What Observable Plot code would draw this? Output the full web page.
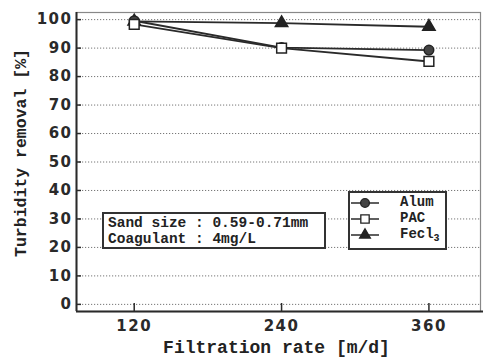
<!DOCTYPE html>
<html>
<head>
<meta charset="utf-8">
<script src="https://cdn.jsdelivr.net/npm/d3@7"></script>
<script src="https://cdn.jsdelivr.net/npm/@observablehq/plot@0.6"></script>
<style>
  html, body { margin: 0; padding: 0; background: #fff; }
  #wrap { position: relative; width: 483px; height: 358px; overflow: hidden; }
  #wrap svg { position: absolute; left: 0; top: 0; }
  .tick-lab text { letter-spacing: 1.5px; }
  .box { position: absolute; border: 2px solid #333; background: #fff; box-sizing: border-box;
         font-family: "Liberation Mono", "DejaVu Sans Mono", monospace; font-weight: bold; color: #222; }
  #note { left: 102px; top: 212px; width: 224px; height: 37px; font-size: 14.5px; line-height: 16px; padding: 1px 0 0 4px; white-space: nowrap; }
  #legend { left: 348px; top: 191px; width: 99px; height: 59px; font-size: 14px; }
  .lrow { position: absolute; left: 0; height: 16px; width: 100%; }
  .lrow svg { position: absolute; left: 3px; top: 0; }
  .lrow span { position: absolute; left: 50px; top: -1px; line-height: 16px; }
  sub { font-size: 10px; vertical-align: -3px; line-height: 0; }
</style>
</head>
<body>
<div id="wrap"></div>
<script>
const rates = [120, 240, 360];
const alum = [99.6, 90.2, 89.3];
const pac = [98.3, 90.0, 85.3];
const fecl3 = [99.4, 98.8, 97.5];
const xTicks = [120, 240, 360];
const yTicks = [0, 10, 20, 30, 40, 50, 60, 70, 80, 90, 100];
const xTitle = "Filtration rate [m/d]";
const yTitle = "Turbidity removal [%]";
const seriesNames = ["Alum", "PAC", "Fecl3"];
const noteLines = ["Sand size : 0.59-0.71mm", "Coagulant : 4mg/L"];

const toRows = (vals) => rates.map((r, i) => ({rate: r, v: vals[i]}));
const A = toRows(alum), P = toRows(pac), F = toRows(fecl3);

const W = 483, H = 358, mL = 76, mR = 3, mT = 12, mB = 47;
const innerW = W - mL - mR, innerH = H - mT - mB;
const xDom = [73, 402], yDom = [-2.5, 102.5];
const mono = "Liberation Mono, DejaVu Sans Mono, monospace";
const sans = "DejaVu Sans, Liberation Sans, sans-serif";
const ink = "#2a2a2a";

const chart = Plot.plot({
  width: W, height: H,
  marginLeft: mL, marginRight: mR, marginTop: mT, marginBottom: mB,
  x: {domain: xDom},
  y: {domain: yDom},
  style: {background: "transparent"},
  marks: [
    Plot.ruleY(yTicks, {stroke: "#777", strokeWidth: 1, strokeDasharray: "1.2,1.8"}),
    Plot.frame({stroke: "#888", strokeWidth: 1.2}),
    Plot.ruleX([xDom[0]], {stroke: ink, strokeWidth: 2}),
    Plot.ruleY([yDom[0]], {stroke: ink, strokeWidth: 2, insetRight: -3}),
    Plot.tickX(xTicks, {x: d => d, stroke: ink, strokeWidth: 1.5, insetTop: innerH - 8}),
    Plot.tickY(yTicks, {y: d => d, stroke: ink, strokeWidth: 1.5, insetRight: innerW - 5}),
    Plot.axisX({ticks: xTicks, tickSize: 0, tickPadding: 9, fontSize: 15, fontWeight: "bold",
      fontFamily: sans, fill: "#2a2a2a", label: null, className: "tick-lab"}),
    Plot.axisY({ticks: yTicks, tickSize: 0, tickPadding: 4, fontSize: 15, fontWeight: "bold",
      fontFamily: sans, fill: "#2a2a2a", label: null, className: "tick-lab"}),
    Plot.text([xTitle], {frameAnchor: "bottom", lineAnchor: "middle", textAnchor: "middle", dy: 36, dx: -2,
      fontSize: 18, fontWeight: "bold", fontFamily: mono, fill: "#222"}),
    Plot.text([yTitle], {frameAnchor: "left", textAnchor: "middle", lineAnchor: "middle", rotate: -90,
      dx: -56, dy: -9, fontSize: 16.5, fontWeight: "bold", fontFamily: mono, fill: "#222"}),
    Plot.line(F, {x: "rate", y: "v", stroke: ink, strokeWidth: 1.8}),
    Plot.line(A, {x: "rate", y: "v", stroke: ink, strokeWidth: 1.8}),
    Plot.line(P, {x: "rate", y: "v", stroke: ink, strokeWidth: 1.8}),
    Plot.dot(F, {x: "rate", y: "v", symbol: "triangle", r: 4.6, fill: "#222", stroke: "#222"}),
    Plot.dot(A, {x: "rate", y: "v", symbol: "circle", r: 4.8, fill: "#444", stroke: "#222", strokeWidth: 1.5}),
    Plot.dot(P, {x: "rate", y: "v", symbol: "square", r: 5.5, fill: "#fff", stroke: "#222", strokeWidth: 1.5})
  ]
});
const wrap = document.getElementById("wrap");
wrap.appendChild(chart);

// annotation box
const note = document.createElement("div");
note.className = "box"; note.id = "note";
note.innerHTML = noteLines.join("<br>");
wrap.appendChild(note);

// legend
const legend = document.createElement("div");
legend.className = "box"; legend.id = "legend";
const symbols = [d3.symbolCircle, d3.symbolSquare, d3.symbolTriangle];
const sizes = [60, 70, 50];
const fills = ["#444", "#fff", "#222"];
seriesNames.forEach((name, i) => {
  const row = document.createElement("div");
  row.className = "lrow";
  row.style.top = (2 + i * 16) + "px";
  const s = d3.create("svg").attr("width", 30).attr("height", 16);
  s.append("line").attr("x1", 1).attr("x2", 29).attr("y1", 8).attr("y2", 8).attr("stroke", ink).attr("stroke-width", 1.5);
  s.append("path").attr("d", d3.symbol(symbols[i], sizes[i])()).attr("transform", "translate(15,8)")
    .attr("fill", fills[i]).attr("stroke", "#222").attr("stroke-width", 1.3);
  row.appendChild(s.node());
  const t = document.createElement("span");
  t.innerHTML = name === "Fecl3" ? "Fecl<sub>3</sub>" : name;
  row.appendChild(t);
  legend.appendChild(row);
});
wrap.appendChild(legend);
</script>
</body>
</html>
